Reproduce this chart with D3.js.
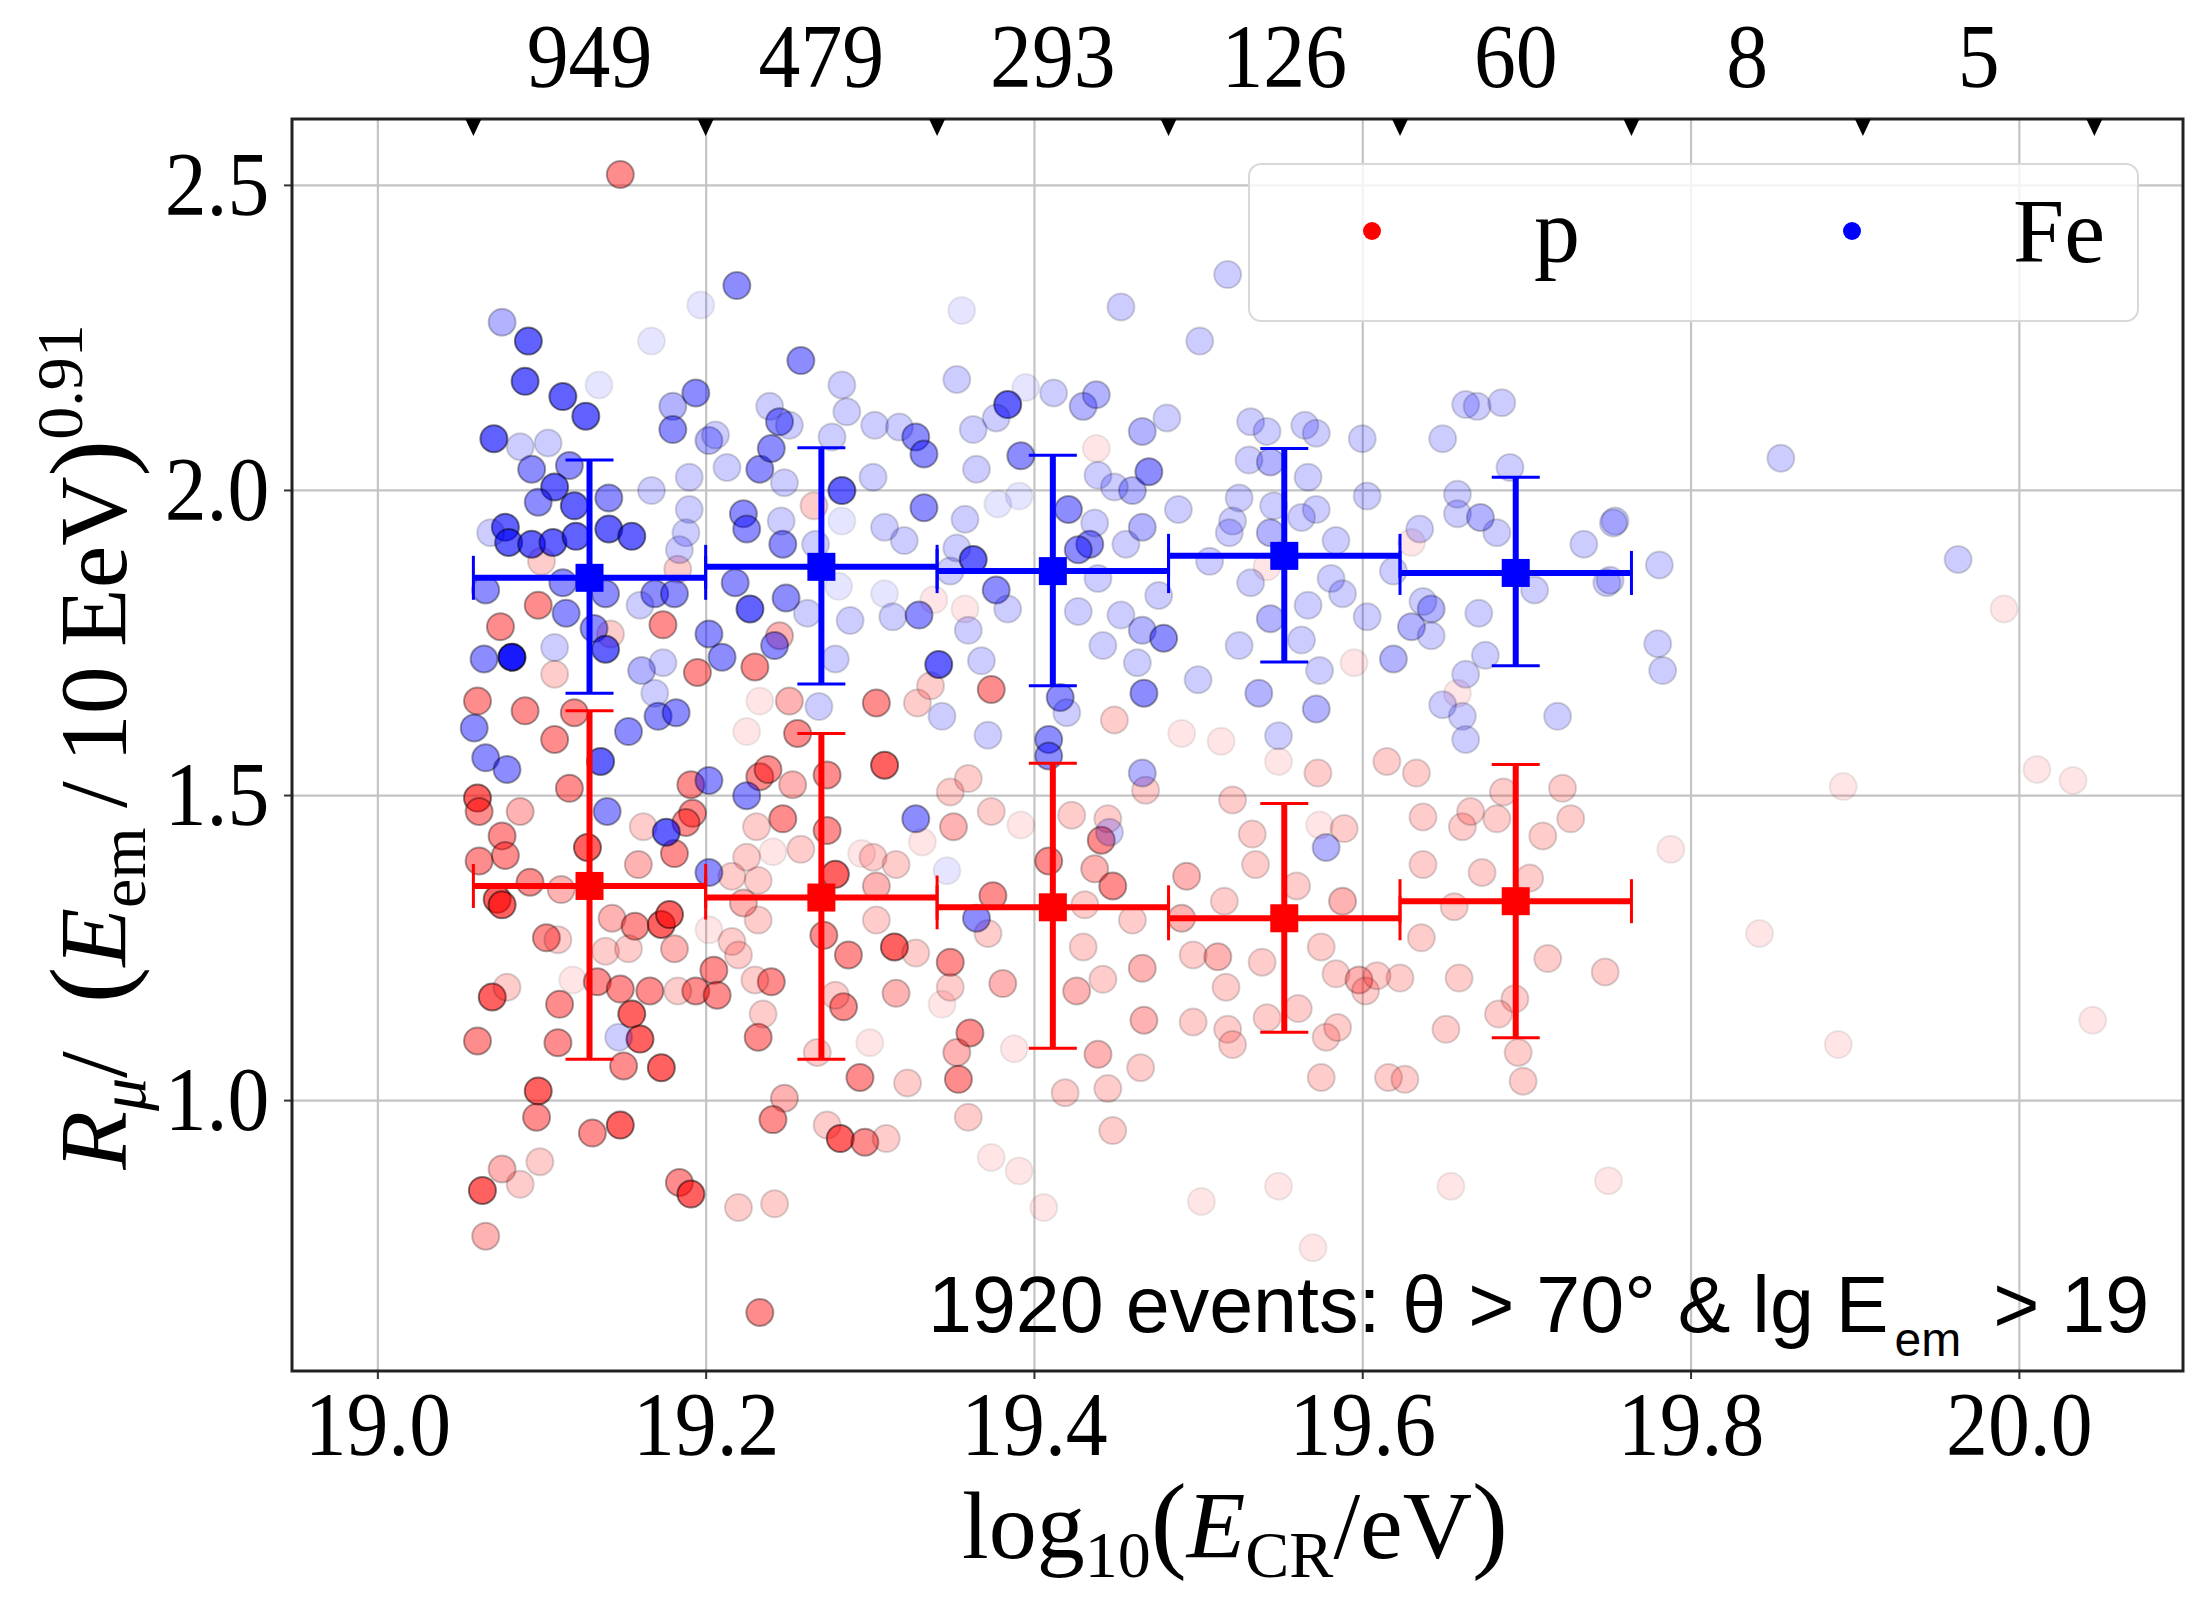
<!DOCTYPE html>
<html>
<head>
<meta charset="utf-8">
<script src="https://cdn.jsdelivr.net/npm/d3@7"></script>
<style>
  body { margin: 0; background: #fff; }
  svg { display: block; }
</style>
</head>
<body>
<div id="chart-area"></div>
<script>
// Bin edges of lg(E_CR/eV) (top axis) and number of events per bin
const binEdges = [19.0585, 19.2, 19.341, 19.482, 19.623, 19.764, 19.905, 20.046];
const eventCounts = [949, 479, 293, 126, 60, 8, 5];

const xTicks = [19.0, 19.2, 19.4, 19.6, 19.8, 20.0];
const yTicks = [1.0, 1.5, 2.0, 2.5];

// Binned means with error bars (first five bins)
const pMean  = [1.351, 1.332, 1.316, 1.298, 1.326];
const pLow   = [1.067, 1.067, 1.085, 1.111, 1.102];
const pHigh  = [1.638, 1.601, 1.552, 1.486, 1.550];
const feMean = [1.856, 1.874, 1.867, 1.892, 1.864];
const feLow  = [1.667, 1.682, 1.679, 1.718, 1.712];
const feHigh = [2.049, 2.069, 2.057, 2.068, 2.021];

// Events: [lg E_CR, R_mu/(E_em/10EeV)^0.91, weight level 1..6]
const pEvents = [
  [19.148, 2.517, 4], [19.266, 1.974, 2], [19.100, 1.883, 2], [19.098, 1.811, 4], [19.075, 1.776, 4],
  [19.183, 1.870, 2], [19.142, 1.764, 2], [19.108, 1.698, 2], [19.230, 1.710, 4], [19.251, 1.654, 3],
  [19.304, 1.651, 4], [19.329, 1.651, 2], [19.374, 1.673, 4], [19.337, 1.679, 2], [19.358, 1.805, 1],
  [19.339, 1.820, 1], [19.061, 1.654, 4], [19.233, 1.654, 1], [19.225, 1.604, 1], [19.256, 1.601, 4],
  [19.108, 1.591, 4], [19.195, 1.701, 4], [19.174, 1.779, 4], [19.245, 1.761, 3], [19.090, 1.638, 4],
  [19.120, 1.635, 4],
  [19.438, 2.068, 1], [19.449, 1.623, 2], [19.490, 1.601, 1], [19.514, 1.588, 1], [19.595, 1.717, 1],
  [19.658, 1.667, 1], [19.630, 1.914, 1], [19.542, 1.874, 1], [19.991, 1.805, 1],
  [19.061, 1.495, 5], [19.062, 1.473, 4], [19.087, 1.473, 3], [19.076, 1.433, 4], [19.078, 1.401, 4],
  [19.062, 1.392, 4], [19.117, 1.511, 4], [19.128, 1.414, 5], [19.093, 1.357, 4], [19.112, 1.345, 3],
  [19.073, 1.329, 5], [19.076, 1.320, 5], [19.103, 1.266, 4], [19.110, 1.263, 2], [19.143, 1.298, 3],
  [19.157, 1.285, 4], [19.139, 1.244, 2], [19.153, 1.248, 2], [19.173, 1.288, 5], [19.178, 1.304, 5],
  [19.181, 1.248, 3], [19.159, 1.386, 3], [19.181, 1.404, 4], [19.162, 1.448, 2], [19.191, 1.517, 4],
  [19.192, 1.470, 4], [19.188, 1.455, 4], [19.119, 1.197, 1], [19.134, 1.194, 4], [19.148, 1.182, 4],
  [19.166, 1.179, 4], [19.194, 1.179, 4], [19.205, 1.213, 4], [19.207, 1.172, 4], [19.183, 1.179, 2],
  [19.070, 1.169, 5], [19.079, 1.185, 2], [19.111, 1.157, 4], [19.155, 1.141, 5], [19.160, 1.100, 5],
  [19.061, 1.097, 4], [19.110, 1.094, 4], [19.150, 1.056, 4], [19.173, 1.053, 5], [19.098, 1.015, 5],
  [19.097, 0.972, 4], [19.131, 0.946, 4], [19.148, 0.959, 5], [19.076, 0.887, 3], [19.099, 0.899, 2],
  [19.064, 0.852, 5], [19.087, 0.862, 2], [19.184, 0.865, 4], [19.191, 0.846, 5], [19.066, 0.777, 3],
  [19.233, 0.652, 4], [19.220, 0.824, 2], [19.242, 0.830, 2], [19.232, 1.103, 4], [19.235, 1.141, 2],
  [19.240, 1.194, 4], [19.230, 1.197, 2], [19.216, 1.260, 2], [19.220, 1.238, 2], [19.202, 1.279, 1],
  [19.232, 1.360, 2], [19.223, 1.323, 3], [19.232, 1.295, 2], [19.225, 1.398, 2], [19.216, 1.367, 2],
  [19.231, 1.448, 2], [19.241, 1.407, 1], [19.247, 1.461, 4], [19.258, 1.411, 2], [19.233, 1.530, 4],
  [19.238, 1.542, 4], [19.253, 1.517, 3], [19.274, 1.533, 4], [19.274, 1.442, 4], [19.279, 1.370, 5],
  [19.272, 1.270, 4], [19.287, 1.238, 4], [19.315, 1.251, 5], [19.328, 1.241, 2], [19.304, 1.295, 2],
  [19.304, 1.351, 3], [19.302, 1.398, 2], [19.316, 1.386, 2], [19.295, 1.404, 1], [19.309, 1.549, 5],
  [19.316, 1.175, 3], [19.284, 1.153, 4], [19.279, 1.172, 2], [19.300, 1.094, 1], [19.294, 1.037, 4],
  [19.323, 1.028, 2], [19.248, 1.003, 3], [19.241, 0.968, 4], [19.274, 0.959, 2], [19.282, 0.937, 5],
  [19.297, 0.931, 4], [19.310, 0.937, 2], [19.268, 1.078, 2], [19.349, 1.226, 4], [19.349, 1.185, 2],
  [19.344, 1.157, 1], [19.361, 1.110, 4], [19.353, 1.078, 3], [19.354, 1.034, 4], [19.360, 0.972, 2],
  [19.374, 0.906, 1], [19.391, 0.884, 1], [19.381, 1.191, 3], [19.375, 1.335, 4], [19.372, 1.273, 2],
  [19.351, 1.448, 3], [19.349, 1.505, 2], [19.360, 1.527, 2], [19.374, 1.473, 2], [19.392, 1.451, 1],
  [19.332, 1.423, 1], [19.388, 1.084, 1],
  [19.409, 1.392, 4], [19.423, 1.467, 2], [19.441, 1.426, 4], [19.445, 1.461, 2], [19.448, 1.351, 4],
  [19.437, 1.379, 3], [19.431, 1.320, 2], [19.460, 1.295, 2], [19.430, 1.251, 2], [19.442, 1.198, 2],
  [19.426, 1.179, 3], [19.466, 1.216, 3], [19.467, 1.131, 3], [19.439, 1.075, 3], [19.465, 1.053, 2],
  [19.419, 1.012, 2], [19.445, 1.019, 2], [19.448, 0.950, 2], [19.406, 0.824, 1], [19.468, 1.508, 2],
  [19.493, 1.367, 3], [19.490, 1.298, 3], [19.497, 1.238, 2], [19.512, 1.235, 3], [19.517, 1.185, 2],
  [19.497, 1.128, 2], [19.518, 1.116, 2], [19.521, 1.091, 2], [19.516, 1.326, 2], [19.521, 1.492, 2],
  [19.533, 1.436, 2], [19.535, 1.386, 2], [19.539, 1.226, 2], [19.542, 1.135, 2], [19.561, 1.150, 2],
  [19.560, 1.351, 2], [19.575, 1.251, 2], [19.574, 1.451, 1], [19.589, 1.445, 2], [19.588, 1.326, 3],
  [19.584, 1.207, 2], [19.598, 1.197, 3], [19.602, 1.179, 2], [19.578, 1.103, 2], [19.585, 1.119, 2],
  [19.575, 1.037, 2], [19.549, 1.555, 1], [19.573, 1.536, 2], [19.502, 0.834, 1], [19.549, 0.859, 1],
  [19.570, 0.758, 1], [19.615, 1.555, 2], [19.633, 1.536, 2], [19.637, 1.464, 2], [19.637, 1.386, 2],
  [19.636, 1.266, 2], [19.623, 1.200, 2], [19.609, 1.204, 2], [19.616, 1.037, 2], [19.626, 1.034, 2],
  [19.651, 1.116, 2], [19.659, 1.200, 2], [19.654, 0.859, 1], [19.661, 1.448, 2], [19.666, 1.473, 2],
  [19.673, 1.373, 2], [19.682, 1.461, 2], [19.686, 1.505, 2], [19.693, 1.166, 2], [19.683, 1.141, 2],
  [19.695, 1.078, 2], [19.698, 1.031, 2], [19.702, 1.364, 2], [19.710, 1.433, 2], [19.713, 1.232, 2],
  [19.722, 1.511, 2], [19.727, 1.461, 2], [19.748, 1.210, 2], [19.750, 0.868, 1], [19.656, 1.317, 2],
  [19.788, 1.411, 1], [19.842, 1.273, 1], [19.890, 1.091, 1], [19.893, 1.514, 1], [20.011, 1.542, 1],
  [20.033, 1.524, 1], [20.045, 1.131, 1]
];

const feEvents = [
  [19.076, 2.275, 3], [19.092, 2.244, 5], [19.090, 2.178, 5], [19.113, 2.153, 5], [19.127, 2.121, 5],
  [19.135, 2.172, 1], [19.071, 2.084, 5], [19.087, 2.071, 2], [19.104, 2.077, 2], [19.094, 2.034, 4],
  [19.117, 2.040, 4], [19.108, 2.005, 5], [19.098, 1.980, 4], [19.120, 1.974, 5], [19.141, 1.987, 4],
  [19.078, 1.939, 5], [19.080, 1.914, 5], [19.094, 1.911, 5], [19.107, 1.914, 5], [19.121, 1.924, 5],
  [19.141, 1.936, 5], [19.155, 1.924, 5], [19.069, 1.930, 2], [19.066, 1.836, 4], [19.113, 1.848, 4],
  [19.115, 1.798, 4], [19.139, 1.830, 4], [19.132, 1.773, 4], [19.139, 1.739, 5], [19.108, 1.742, 2],
  [19.065, 1.723, 4], [19.082, 1.726, 6], [19.167, 2.244, 1], [19.197, 2.303, 1], [19.219, 2.335, 4],
  [19.194, 2.159, 4], [19.180, 2.137, 3], [19.180, 2.099, 4], [19.202, 2.081, 3], [19.206, 2.090, 2],
  [19.167, 1.999, 2], [19.190, 2.021, 2], [19.190, 1.968, 2], [19.188, 1.930, 2], [19.184, 1.902, 2],
  [19.169, 1.830, 4], [19.181, 1.830, 4], [19.202, 1.764, 4], [19.210, 1.726, 4], [19.161, 1.704, 3],
  [19.174, 1.717, 2], [19.160, 1.811, 2], [19.213, 2.037, 2], [19.233, 2.034, 4], [19.240, 2.068, 4],
  [19.239, 2.137, 2], [19.245, 2.112, 4], [19.251, 2.106, 2], [19.258, 2.212, 4], [19.283, 2.172, 2],
  [19.286, 2.128, 2], [19.277, 2.087, 2], [19.303, 2.106, 2], [19.318, 2.103, 2], [19.328, 2.087, 4],
  [19.333, 2.059, 4], [19.302, 2.021, 2], [19.283, 1.999, 5], [19.283, 1.949, 1], [19.309, 1.939, 2],
  [19.321, 1.917, 2], [19.333, 1.971, 4], [19.248, 2.012, 2], [19.223, 1.961, 4], [19.225, 1.936, 4],
  [19.247, 1.911, 4], [19.267, 1.911, 2], [19.246, 1.949, 2], [19.218, 1.848, 4], [19.227, 1.805, 5],
  [19.249, 1.823, 4], [19.262, 1.798, 2], [19.288, 1.786, 2], [19.314, 1.792, 2], [19.309, 1.830, 1],
  [19.281, 1.842, 1], [19.330, 1.795, 4], [19.342, 1.714, 5], [19.353, 1.905, 2], [19.363, 1.886, 5],
  [19.377, 1.836, 4], [19.384, 1.805, 2], [19.358, 1.952, 2], [19.365, 2.034, 2], [19.363, 2.099, 2],
  [19.353, 2.181, 2], [19.356, 2.294, 1], [19.384, 2.140, 5], [19.377, 2.118, 2], [19.395, 2.168, 1],
  [19.392, 2.056, 4], [19.378, 1.977, 1], [19.391, 1.990, 1], [19.368, 1.720, 2], [19.360, 1.770, 2],
  [19.349, 1.867, 2], [19.344, 1.629, 2], [19.269, 1.645, 2], [19.279, 1.723, 2], [19.242, 1.745, 4],
  [19.153, 1.604, 4], [19.171, 1.629, 4], [19.182, 1.635, 4], [19.059, 1.610, 4], [19.169, 1.667, 2],
  [19.372, 1.598, 2],
  [19.518, 2.353, 2], [19.453, 2.300, 2], [19.501, 2.244, 2], [19.412, 2.159, 2], [19.430, 2.137, 3],
  [19.438, 2.156, 3], [19.466, 2.096, 3], [19.481, 2.118, 2], [19.532, 2.112, 2], [19.542, 2.096, 2],
  [19.565, 2.106, 2], [19.572, 2.093, 2], [19.600, 2.084, 2], [19.649, 2.084, 2], [19.663, 2.140, 2],
  [19.670, 2.137, 2], [19.685, 2.143, 2], [19.470, 2.030, 4], [19.460, 1.999, 3], [19.439, 2.024, 2],
  [19.421, 1.968, 4], [19.449, 2.005, 2], [19.466, 1.939, 3], [19.456, 1.911, 2], [19.434, 1.911, 4],
  [19.427, 1.902, 4], [19.437, 1.946, 2], [19.488, 1.968, 2], [19.531, 2.049, 2], [19.544, 2.046, 3],
  [19.567, 2.021, 2], [19.525, 1.987, 2], [19.521, 1.949, 2], [19.546, 1.974, 2], [19.572, 1.968, 2],
  [19.519, 1.930, 2], [19.544, 1.930, 3], [19.563, 1.955, 2], [19.603, 1.990, 2], [19.584, 1.917, 2],
  [19.635, 1.936, 2], [19.658, 1.993, 2], [19.658, 1.961, 2], [19.672, 1.955, 3], [19.690, 2.037, 2],
  [19.682, 1.930, 2], [19.735, 1.911, 2], [19.754, 1.949, 2], [19.749, 1.848, 2], [19.705, 1.836, 2],
  [19.671, 1.798, 2], [19.637, 1.817, 2], [19.642, 1.805, 3], [19.630, 1.776, 3], [19.642, 1.761, 2],
  [19.619, 1.867, 2], [19.603, 1.792, 2], [19.675, 1.729, 2], [19.663, 1.698, 2], [19.619, 1.723, 3],
  [19.649, 1.648, 2], [19.661, 1.629, 2], [19.719, 1.629, 2], [19.663, 1.591, 2], [19.581, 1.855, 2],
  [19.588, 1.830, 2], [19.567, 1.811, 2], [19.544, 1.789, 3], [19.563, 1.754, 2], [19.525, 1.745, 2],
  [19.532, 1.848, 2], [19.507, 1.883, 2], [19.574, 1.704, 2], [19.537, 1.667, 3], [19.572, 1.641, 3],
  [19.549, 1.597, 2], [19.500, 1.689, 2], [19.463, 1.717, 2], [19.467, 1.667, 4], [19.416, 1.660, 4],
  [19.420, 1.635, 2], [19.442, 1.745, 2], [19.427, 1.801, 2], [19.453, 1.795, 2], [19.466, 1.770, 3],
  [19.479, 1.757, 4], [19.476, 1.827, 2], [19.439, 1.855, 2], [19.409, 1.591, 4],
  [19.855, 2.052, 2], [19.753, 1.946, 2], [19.781, 1.877, 2], [19.751, 1.852, 2], [19.780, 1.748, 2],
  [19.783, 1.704, 2], [19.963, 1.886, 2],
  [19.066, 1.561, 4], [19.079, 1.542, 4], [19.140, 1.473, 4], [19.176, 1.439, 5], [19.202, 1.524, 4],
  [19.225, 1.499, 4], [19.202, 1.373, 4], [19.328, 1.461, 4], [19.365, 1.298, 4], [19.147, 1.103, 2],
  [19.136, 1.555, 5], [19.347, 1.376, 1],
  [19.466, 1.536, 3], [19.446, 1.439, 2], [19.578, 1.414, 3], [19.409, 1.564, 4]
];

// Layout
const margin = { top: 119, right: 18, bottom: 228, left: 292 };
const width = 2201 - margin.left - margin.right,
      height = 1599 - margin.top - margin.bottom;

const serif = "'Liberation Serif', 'Times New Roman', serif";
const sans = "'Liberation Sans', Arial, sans-serif";
const squeeze = "scale(0.91,1)";

const x = d3.scaleLinear().domain([18.948, 20.100]).range([0, width]);
const y = d3.scaleLinear().domain([0.556, 2.608]).range([height, 0]);
const opacity = d3.scaleOrdinal().domain([1, 2, 3, 4, 5, 6])
  .range([0.1, 0.2, 0.3, 0.45, 0.62, 0.9]);

const svg = d3.select("#chart-area").append("svg")
  .attr("width", 2201)
  .attr("height", 1599);

svg.append("rect").attr("width", 2201).attr("height", 1599).attr("fill", "#fff");

const g = svg.append("g")
  .attr("transform", `translate(${margin.left},${margin.top})`);

svg.append("defs").append("clipPath").attr("id", "plot-clip")
  .append("rect").attr("width", width).attr("height", height);

// Grid
g.append("g")
  .attr("class", "grid")
  .attr("transform", `translate(0,${height})`)
  .call(d3.axisBottom(x).tickValues(xTicks).tickSize(-height).tickFormat(""))
  .call(s => s.select(".domain").remove())
  .selectAll("line").attr("stroke", "#c4c4c4").attr("stroke-width", 2.2);

g.append("g")
  .attr("class", "grid")
  .call(d3.axisLeft(y).tickValues(yTicks).tickSize(-width).tickFormat(""))
  .call(s => s.select(".domain").remove())
  .selectAll("line").attr("stroke", "#c4c4c4").attr("stroke-width", 2.2);

// Scatter of events
const dots = g.append("g").attr("clip-path", "url(#plot-clip)");

function drawEvents(data, color) {
  dots.append("g").selectAll("circle")
    .data(data)
    .enter()
    .append("circle")
      .attr("cx", d => x(d[0]))
      .attr("cy", d => y(d[1]))
      .attr("r", 13.5)
      .attr("fill", color)
      .attr("fill-opacity", d => opacity(d[2]))
      .attr("stroke", "#000")
      .attr("stroke-opacity", d => opacity(d[2]) * 0.8)
      .attr("stroke-width", 2);
}
drawEvents(pEvents, "#ff0000");
drawEvents(feEvents, "#0000ff");

// Binned means with error bars
function drawErrorBars(mean, low, high, color) {
  const bins = mean.map((m, i) => ({
    lo: binEdges[i], hi: binEdges[i + 1],
    c: (binEdges[i] + binEdges[i + 1]) / 2,
    m: m, yl: low[i], yh: high[i]
  }));
  const eb = g.append("g").attr("stroke", color).attr("fill", color);
  const b = eb.selectAll("g").data(bins).enter().append("g");
  b.append("line")
    .attr("x1", d => x(d.lo)).attr("x2", d => x(d.hi))
    .attr("y1", d => y(d.m)).attr("y2", d => y(d.m))
    .attr("stroke-width", 6);
  b.append("line")
    .attr("x1", d => x(d.c)).attr("x2", d => x(d.c))
    .attr("y1", d => y(d.yl)).attr("y2", d => y(d.yh))
    .attr("stroke-width", 6);
  ["yl", "yh"].forEach(k => {
    b.append("line")
      .attr("x1", d => x(d.c) - 24).attr("x2", d => x(d.c) + 24)
      .attr("y1", d => y(d[k])).attr("y2", d => y(d[k]))
      .attr("stroke-width", 3);
  });
  ["lo", "hi"].forEach(k => {
    b.append("line")
      .attr("x1", d => x(d[k])).attr("x2", d => x(d[k]))
      .attr("y1", d => y(d.m) - 22).attr("y2", d => y(d.m) + 22)
      .attr("stroke-width", 3);
  });
  b.append("rect")
    .attr("x", d => x(d.c) - 14).attr("y", d => y(d.m) - 14)
    .attr("width", 28).attr("height", 28)
    .attr("stroke", "none");
}
drawErrorBars(feMean, feLow, feHigh, "#0000ff");
drawErrorBars(pMean, pLow, pHigh, "#ff0000");

// Axes
const xAxis = g.append("g")
  .attr("transform", `translate(0,${height})`)
  .call(d3.axisBottom(x).tickValues(xTicks).tickFormat(d3.format(".1f")).tickSize(8).tickPadding(11));
const yAxis = g.append("g")
  .call(d3.axisLeft(y).tickValues(yTicks).tickFormat(d3.format(".1f")).tickSize(8).tickPadding(17));

[xAxis, yAxis].forEach(a => {
  a.select(".domain").remove();
  a.selectAll(".tick line").attr("stroke", "#333").attr("stroke-width", 2);
  a.selectAll(".tick text")
    .attr("font-family", serif).attr("font-size", 92).attr("fill", "#000")
    .attr("transform", squeeze);
});

// Frame
g.append("rect")
  .attr("width", width).attr("height", height)
  .attr("fill", "none").attr("stroke", "#222").attr("stroke-width", 3);

// Top axis: bin edge markers and event counts
g.append("g").selectAll("path")
  .data(binEdges)
  .enter()
  .append("path")
    .attr("d", d => `M${x(d) - 8},0 L${x(d) + 8},0 L${x(d)},17 Z`)
    .attr("fill", "#000");

g.append("g").selectAll("text")
  .data(eventCounts)
  .enter()
  .append("text")
    .attr("transform", (d, i) =>
      `translate(${x((binEdges[i] + binEdges[i + 1]) / 2)},-32) ${squeeze}`)
    .attr("text-anchor", "middle")
    .attr("font-family", serif)
    .attr("font-size", 92)
    .text(d => d);

// Axis labels
const xLabel = svg.append("text")
  .attr("x", 1235).attr("y", 1558)
  .attr("text-anchor", "middle")
  .attr("font-family", serif).attr("font-size", 96);
xLabel.append("tspan").text("log");
xLabel.append("tspan").attr("font-size", 66).attr("dy", 19).text("10");
xLabel.append("tspan").attr("dy", -19).attr("font-size", 108).text("(");
xLabel.append("tspan").attr("font-style", "italic").text("E");
xLabel.append("tspan").attr("font-size", 66).attr("dy", 19).text("CR");
xLabel.append("tspan").attr("dy", -19).text("/eV");
xLabel.append("tspan").attr("font-size", 108).text(")");

const yLabel = svg.append("text")
  .attr("transform", "translate(126,747) rotate(-90)")
  .attr("text-anchor", "middle")
  .attr("font-family", serif).attr("font-size", 96);
yLabel.append("tspan").attr("font-style", "italic").text("R");
yLabel.append("tspan").attr("font-style", "italic").attr("font-size", 66).attr("dy", 19).text("μ");
yLabel.append("tspan").attr("dy", -19).text("/\u2002");
yLabel.append("tspan").attr("font-size", 110).text("(");
yLabel.append("tspan").attr("font-style", "italic").text("E");
yLabel.append("tspan").attr("font-size", 66).attr("dy", 19).text("em");
yLabel.append("tspan").attr("dy", -19).text("\u2009/\u200910\u2009EeV");
yLabel.append("tspan").attr("font-size", 110).text(")");
yLabel.append("tspan").attr("font-size", 66).attr("dy", -44).text("0.91");

// Legend
const legend = g.append("g");
legend.append("rect")
  .attr("x", 1249 - margin.left).attr("y", 164 - margin.top)
  .attr("width", 889).attr("height", 157).attr("rx", 12)
  .attr("fill", "#fff").attr("fill-opacity", 0.8)
  .attr("stroke", "#d8d8d8").attr("stroke-width", 2);
const legendItems = [
  { label: "p", color: "#ff0000", mx: 1372, tx: 1534 },
  { label: "Fe", color: "#0000ff", mx: 1852, tx: 2013 }
];
legendItems.forEach(it => {
  legend.append("circle")
    .attr("cx", it.mx - margin.left).attr("cy", 231 - margin.top).attr("r", 9)
    .attr("fill", it.color);
  legend.append("text")
    .attr("x", it.tx - margin.left).attr("y", 262 - margin.top)
    .attr("font-family", serif).attr("font-size", 92)
    .text(it.label);
});

// Selection note
const note = svg.append("text")
  .attr("x", 928).attr("y", 1332)
  .attr("font-family", sans).attr("font-size", 79).attr("fill", "#000");
note.append("tspan").text("1920 events: θ > 70° & lg E");
note.append("tspan").attr("font-size", 48).attr("dx", 6).attr("dy", 24).text("em");
note.append("tspan").attr("dx", 10).attr("dy", -24).text(" > 19");
</script>
</body>
</html>
